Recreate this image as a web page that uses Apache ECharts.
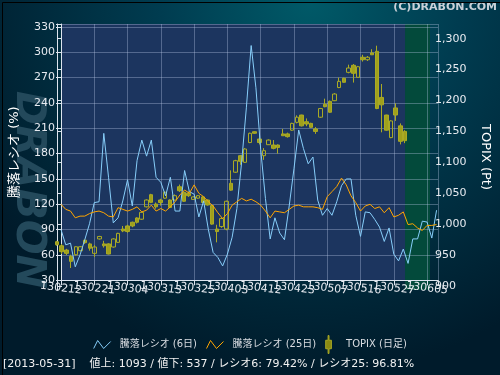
<!DOCTYPE html>
<html><head><meta charset="utf-8">
<script src="https://cdn.jsdelivr.net/npm/echarts@6/dist/echarts.min.js"></script>
<style>html,body{margin:0;padding:0;background:#00202f}#c{width:500px;height:375px}</style>
</head><body><div id="c"></div>
<script>
// ---- data ----
const tickLabels = ['130212','130221','130304','130313','130325','130403','130412','130423','130507','130516','130527','130605'];
const legendNames = ['騰落レシオ (6日)', '騰落レシオ (25日)', 'TOPIX (日足)'];
const leftTicks = [30,60,90,120,150,180,210,240,270,300,330];
const rightTicks = [900,950,1000,1050,1100,1150,1200,1250,1300];
// 騰落レシオ (6日), one value per trading day
const ratio6 = [90,72,74,46,60,78,97,122,123,204,
  152,98,104,124,149,118,172,196,177,196,
  152,146,130,152,112,112,160,135,132,105,
  124,90,63,57,47,61,81,115,170,235,
  308,258,185,127,79,104,86,78,118,162,
  208,186,168,176,125,107,115,107,123,142,
  150,150,107,82,111,110,102,93,76,92,
  61,53,67,50,79,79,100,99,80,113];
// 騰落レシオ (25日)
const ratio25 = [120,114,112,104,106,106,109,111,112,110,
  106,105,116,114,112,114,117,111,113,119,
  112,115,112,117,123,131,137,133,143,133,
  129,123,118,110,103,109,119,123,127,124,
  126,123,119,112,104,112,111,110,114,118,
  119,117,117,117,116,114,129,135,141,151,
  143,130,122,112,118,120,115,117,110,116,
  105,107,111,96,97,92,89,95,95,96];
// TOPIX daily candles: [open, close, low, high]
const topixOHLC = [
  [971.5,966.6,965,973],[965,955.3,951.7,968],[958,952.7,950,960],[947.9,939.8,929,950.5],[950.5,963.4,949,964],
  [957,963.4,956,964.5],[974,970,968,975],[968,961,957,970],[952.7,963,947,966],[976,980,975,981],
  [968,965,962,973],[968,951.6,951,969],[963,976,962,977],[970.5,985,970,986],[992,989,987,997],
  [997,988,986,999],[1003,997,995,1004],[1010,1003,1001,1011],[1008,1019,1007,1020],[1028,1039,1027,1040],
  [1047.6,1035.3,1034,1049],[1032.5,1028,1025,1035],[1039,1035,1030,1041],[1042,1051.5,1041,1053],[1039,1027,1026,1040],
  [1039,1046,1038,1048],[1060.5,1054,1052,1064],[1051.5,1037,1036,1053],[1050,1046,1044,1053],[1040,1044,1039,1045],
  [1042,1046,1041,1047],[1044,1035,1034,1045],[1039,1031,1030,1040],[1030,1000,999,1031],[992,988,970.5,999],
  [996,1009,994,1011],[992,1037,990,1038],[1066,1055,1054,1087],[1084,1102.6,1083,1104],[1110.7,1101.6,1096,1112],
  [1100,1121.5,1099,1123],[1132,1147,1131,1148],[1149.5,1147,1146,1150],[1137.7,1132,1129,1145],[1110.7,1118.8,1104,1123],
  [1128.5,1136,1128,1137],[1128,1122.6,1121,1136],[1128,1124,1114,1129],[1146,1143,1143,1154],[1146,1141.5,1140,1148],
  [1152,1163,1151,1164],[1164.7,1173,1163,1176],[1176.5,1159,1158,1177],[1165.7,1162,1158.5,1171],[1163,1156.6,1156,1164],
  [1154,1150,1146,1157],[1173,1187,1172,1188],[1194,1190,1189,1203],[1198.7,1181,1180,1200],[1199.7,1210.5,1199,1212],
  [1221,1231,1220,1237],[1236,1229.5,1229,1237],[1245.6,1252.6,1244,1258],[1257,1244,1229,1259],[1237.5,1254.7,1237,1256],
  [1270,1266,1263,1274],[1266,1270,1264,1272],[1277,1274,1273.5,1283],[1279.6,1187,1186,1288.7],[1205,1193,1148.5,1226.7],
  [1176.5,1152,1151,1177],[1140,1167,1139,1168],[1188,1176.5,1167,1195.5],[1159,1134,1129,1163],[1150,1135,1131,1152]
];
const statusText = '[2013-05-31]    値上: 1093 / 値下: 537 / レシオ6: 79.42% / レシオ25: 96.81%';
const copyright = '(C)DRABON.COM';

// ---- chart ----
const tickStep = 7;
const xMax = 79.3;
const markStart = topixOHLC.length - 1; // last candle day (2013-05-31)
const lblColor = '#e6eaf0';
const axisColor = '#dde4ee';
const gridColor = 'rgba(185,200,230,0.36)';
const cjk = '"DejaVu Sans","Noto Sans CJK JP",sans-serif';

// tick label for value v, only for ticks of the given parity (0 even, 1 odd)
function xLabel(v, parity) {
  const k = v / tickStep, r = Math.round(k);
  if (Math.abs(k - r) > 1e-6 || r % 2 !== parity) return '';
  return tickLabels[r] || '';
}
const xLabelStyle = {color:lblColor, fontSize:11, fontFamily:'DejaVu Sans', rotate:-7, align:'center', margin:8,
  showMinLabel:true, showMaxLabel:true, hideOverlap:false};

const chart = echarts.init(document.getElementById('c'));
chart.setOption({
  animation: false,
  backgroundColor: {type:'radial', x:0.62, y:0, r:1.0, colorStops:[
    {offset:0, color:'#005a68'},{offset:0.4, color:'#003c50'},{offset:1, color:'#001b2b'}]},
  grid: [
    {left:57, right:62, top:24, bottom:94.7},
    {left:57, right:62, top:24, bottom:85}
  ],
  legend: {
    left:'center', top:330, itemWidth:17, itemHeight:18, itemGap:9,
    textStyle:{color:'#d9dde2', fontSize:10, fontFamily:cjk, padding:[0,0,0,4]},
    data:[
      {name:legendNames[0], icon:'path://M0,8L4,0L10,8L17,1', itemStyle:{color:'rgba(0,0,0,0)', borderColor:'#87cefa', borderWidth:1}},
      {name:legendNames[1], icon:'path://M0,8L4,0L10,8L17,1', itemStyle:{color:'rgba(0,0,0,0)', borderColor:'#ffa500', borderWidth:1}},
      {name:legendNames[2], icon:'path://M2.5,0h1v5h2.5v9h-2.5v5h-1v-5h-2.5v-9h2.5z', itemStyle:{color:'#8a8a12', borderColor:'#a8a824', borderWidth:1}}
    ]
  },
  xAxis: [
    {type:'value', gridIndex:0, min:0, max:xMax, interval:tickStep,
      axisLine:{show:true, lineStyle:{color:axisColor}},
      axisTick:{show:true, length:5, lineStyle:{color:axisColor}},
      axisLabel:Object.assign({formatter: v => xLabel(v, 0)}, xLabelStyle),
      splitLine:{show:true, lineStyle:{color:gridColor}}},
    {type:'value', gridIndex:1, min:0, max:xMax, show:false, splitLine:{show:false}},
    {type:'value', gridIndex:0, position:'bottom', offset:0, min:0, max:xMax, interval:tickStep,
      axisLine:{show:false}, axisTick:{show:false}, splitLine:{show:false},
      axisLabel:Object.assign({formatter: v => xLabel(v, 1)}, xLabelStyle)}
  ],
  yAxis: [
    {type:'value', gridIndex:0, min:30, max:333.5, interval:30,
      axisLine:{show:true, lineStyle:{color:axisColor}},
      axisTick:{show:true, length:5, lineStyle:{color:axisColor}},
      axisLabel:{color:lblColor, fontSize:11, fontFamily:'DejaVu Sans', margin:6, showMinLabel:true,
        formatter: v => leftTicks.includes(v) ? String(v) : ''},
      splitLine:{show:true, lineStyle:{color:gridColor}},
      name:'騰落レシオ (%)', nameLocation:'middle', nameGap:40, nameRotate:90,
      nameTextStyle:{color:'#ffffff', fontSize:13, fontFamily:cjk}},
    {type:'value', gridIndex:1, position:'right', min:893.4, max:1323.8,
      axisLine:{show:true, lineStyle:{color:axisColor}},
      axisTick:{show:true, length:5, customValues:rightTicks, lineStyle:{color:axisColor}},
      axisLabel:{color:lblColor, fontSize:11, fontFamily:'DejaVu Sans', margin:5, customValues:rightTicks,
        formatter: v => Number(v).toLocaleString('en-US')},
      splitLine:{show:false},
      name:'TOPIX (Pt)', nameLocation:'middle', nameGap:49, nameRotate:-90,
      nameTextStyle:{color:'#ffffff', fontSize:13, fontFamily:cjk}}
  ],
  series: [
    {type:'line', xAxisIndex:0, yAxisIndex:0, z:-1, silent:true, symbol:'none', lineStyle:{opacity:0},
      data:[[0,30],[xMax,30]],
      markArea:{silent:true, z:-1, itemStyle:{color:'#1c355f'}, data:[[{xAxis:0},{xAxis:markStart}]]}},
    {type:'line', xAxisIndex:1, yAxisIndex:1, z:-1, silent:true, symbol:'none', lineStyle:{opacity:0},
      data:[[0,1000],[xMax,1000]],
      markArea:{silent:true, z:-1, itemStyle:{color:'#034a3b'}, data:[[{xAxis:markStart},{xAxis:xMax}]]}},
    {name:legendNames[2], type:'candlestick', xAxisIndex:1, yAxisIndex:1, barWidth:4, z:3,
      encode:{x:0, y:[1,2,3,4]},
      data: topixOHLC.map((d,i) => [i, d[0], d[1], d[2], d[3]]),
      itemStyle:{color:'rgba(0,0,0,0)', color0:'#a0a01c', borderColor:'#aaaa24', borderColor0:'#aaaa24', borderWidth:1}},
    {name:legendNames[0], type:'line', xAxisIndex:0, yAxisIndex:0, symbol:'none', z:4,
      data: ratio6.map((v,i) => [i, v]), lineStyle:{color:'#87cefa', width:1}, itemStyle:{color:'#87cefa'}},
    {name:legendNames[1], type:'line', xAxisIndex:0, yAxisIndex:0, symbol:'none', z:5,
      data: ratio25.map((v,i) => [i, v]), lineStyle:{color:'#ffa500', width:1}, itemStyle:{color:'#ffa500'}}
  ],
  graphic: [
    {type:'text', x:28, y:190, rotation:-Math.PI/2, z:-10, silent:true,
      style:{text:'DRABON', fill:'#23495b', font:'italic bold 41px "DejaVu Sans"', align:'center', verticalAlign:'middle'}},
    {type:'text', right:3, top:2, style:{text:copyright, fill:'#c9d1d8', font:'bold 11px "DejaVu Sans"'}},
    {type:'text', left:3, top:359, style:{text:statusText, fill:'#f2f2f2', font:'11px ' + cjk}},
    {type:'rect', left:0, top:0, silent:true, shape:{width:499, height:374}, style:{fill:'none', stroke:'#000', lineWidth:1}}
  ]
});
</script>
</body></html>
